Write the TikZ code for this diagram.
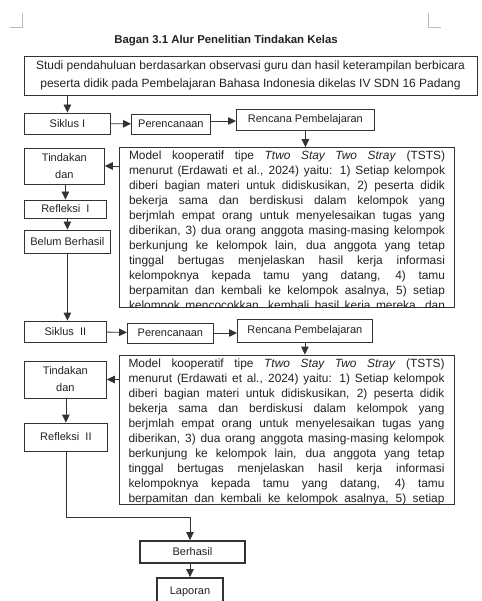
\documentclass[tikz,border=0pt]{standalone}
\usepackage{fontspec}
\setmainfont{Liberation Sans}
\usetikzlibrary{arrows.meta}

\definecolor{garis}{HTML}{333333}
\definecolor{tinta}{HTML}{222222}
\definecolor{sudut}{HTML}{BBBBBB}

\newcommand{\teksmodel}{Model kooperatif tipe \textit{Ttwo Stay Two Stray} (TSTS)\linebreak
menurut (Erdawati et al., 2024) yaitu: 1) Setiap kelompok\linebreak
diberi bagian materi untuk didiskusikan, 2) peserta didik\linebreak
bekerja sama dan berdiskusi dalam kelompok yang\linebreak
berjmlah empat orang untuk menyelesaikan tugas yang\linebreak
diberikan, 3) dua orang anggota masing-masing kelompok\linebreak
berkunjung ke kelompok lain, dua anggota yang tetap\linebreak
tinggal bertugas menjelaskan hasil kerja informasi\linebreak
kelompoknya kepada tamu yang datang, 4) tamu\linebreak
berpamitan dan kembali ke kelompok asalnya, 5) setiap\linebreak
kelompok mencocokkan, kembali hasil kerja mereka, dan\linebreak}

\begin{document}
\begin{tikzpicture}[x=1pt, y=-1pt, font=\fontsize{11}{17}\selectfont, text=tinta,
    kotak/.style={draw=garis, line width=0.8pt, inner sep=0pt, anchor=west},
    tebal/.style={draw=garis, line width=1.8pt, inner sep=0pt},
    kotakmodel/.style={draw=garis, line width=0.8pt, minimum width=335pt, minimum height=160pt},
    isimodel/.style={text width=316pt, align=justify, inner sep=0pt, anchor=north,
        font=\fontsize{11.9}{15}\selectfont},
    panah/.style={draw=garis, line width=0.8pt, -{Triangle[length=8pt,width=7.5pt]}},
    sudutkertas/.style={draw=sudut, line width=0.8pt}]

\clip (0,0) rectangle (481,601);

\draw[sudutkertas] (10,27) -- (22,27) -- (22,13);
\draw[sudutkertas] (428,13) -- (428,27) -- (441,27);

\node[font=\fontsize{11.4}{13}\selectfont\bfseries] (judul) at (226,41) {Bagan 3.1 Alur Penelitian Tindakan Kelas};

\node[draw=garis, line width=0.8pt, minimum width=453pt, minimum height=39pt, align=center,
      font=\fontsize{12}{18}\selectfont] (studi) at (250.5,75.5)
    {Studi pendahuluan berdasarkan observasi guru dan hasil keterampilan berbicara\\
     peserta didik pada Pembelajaran Bahasa Indonesia dikelas IV SDN 16 Padang};

% siklus pertama
\node[kotak, minimum width=86pt, minimum height=21pt] (siklusA) at (24,123.5) {Siklus I};
\node[kotak, minimum width=79pt, minimum height=20pt] (rencanaA) at (131,124) {Perencanaan};
\node[kotak, minimum width=138pt, minimum height=21pt] (rppA) at (236,119.5) {Rencana Pembelajaran};
\node[kotakmodel] (modelA) at (287,227.5) {};
\begin{scope}
  \clip (modelA.south west) rectangle (modelA.north east);
  \node[isimodel] (teksA) at ([yshift=-4pt]modelA.north) {\teksmodel};
\end{scope}
\node[kotak, minimum width=80pt, minimum height=36pt, align=center] (tindakanA) at (24,166) {Tindakan\\dan};
\node[kotak, minimum width=82pt, minimum height=18pt] (refleksiA) at (24,209) {Refleksi~~I};
\node[kotak, minimum width=86pt, minimum height=23pt] (belum) at (24,241.5) {Belum Berhasil};

% siklus kedua
\node[kotak, minimum width=82pt, minimum height=21pt] (siklusB) at (24,331.5) {Siklus~~II};
\node[kotak, minimum width=86pt, minimum height=20pt] (rencanaB) at (127,333) {Perencanaan};
\node[kotak, minimum width=135pt, minimum height=23pt] (rppB) at (237,330.5) {Rencana Pembelajaran};
\node[kotakmodel, minimum height=149pt] (modelB) at (286.5,429.5) {};
\begin{scope}
  \clip (modelB.south west) rectangle (modelB.north east);
  \node[isimodel] (teksB) at ([yshift=-4pt]modelB.north) {\teksmodel};
\end{scope}
\node[kotak, minimum width=82pt, minimum height=37pt, align=center] (tindakanB) at (24,379.5) {Tindakan\\dan};
\node[kotak, minimum width=83pt, minimum height=28pt] (refleksiB) at (24,437) {Refleksi~~II};

\node[tebal, minimum width=105pt, minimum height=22pt] (berhasil) at (192.5,552) {Berhasil};
\node[tebal, minimum width=66pt, minimum height=28pt] (laporan) at (190,592) {Laporan};
\coordinate (belok) at (refleksiB.south |- 0,517);

\draw[panah] (siklusA.north |- studi.south) -- (siklusA.north);
\draw[panah] (siklusA) -- (rencanaA);
\draw[panah] (rencanaA.east |- 0,121) -- (rppA.west |- 0,121);
\draw[panah] (rppA.south) -- (rppA.south |- modelA.north);
\draw[panah] (modelA.west |- tindakanA) -- (tindakanA.east);
\draw[panah] (tindakanA.south -| refleksiA.north) -- (refleksiA.north);
\draw[panah] (refleksiA.south -| belum.north) -- (belum.north);
\draw[panah] (belum.south) -- (belum.south |- siklusB.north);
\draw[panah] (siklusB) -- (rencanaB);
\draw[panah] (rencanaB) -- (rencanaB -| rppB.west);
\draw[panah] (rppB.south) -- (rppB.south |- modelB.north);
\draw[panah] (modelB.west |- tindakanB) -- (tindakanB.east);
\draw[panah] (tindakanB.south -| refleksiB.north) -- (refleksiB.north);
\draw[panah] (refleksiB.south) -- (belok) -| (190,0 |- berhasil.north);
\draw[panah] (190,0 |- berhasil.south) -- (190,0 |- laporan.north);
\end{tikzpicture}
\end{document}
